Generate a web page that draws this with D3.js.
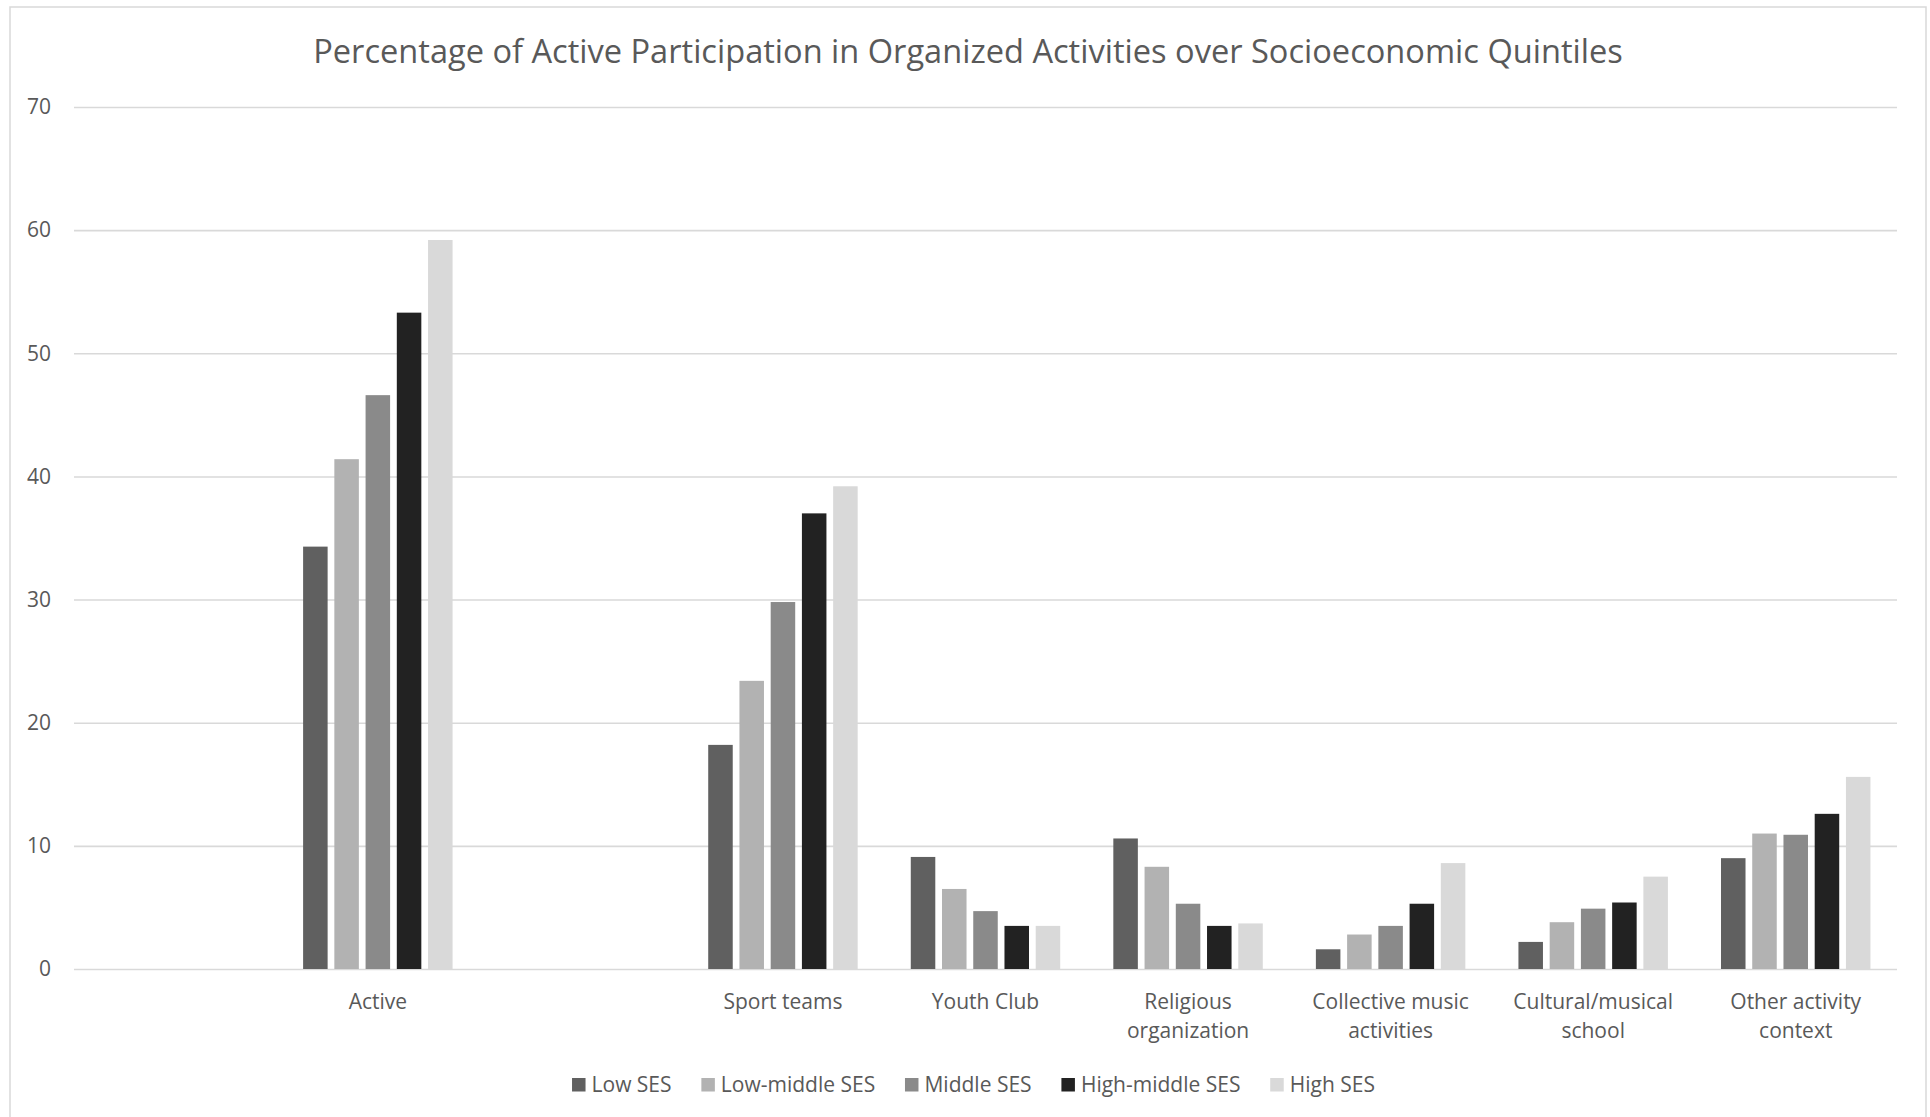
<!DOCTYPE html>
<html>
<head>
<meta charset="utf-8">
<script src="https://cdn.jsdelivr.net/npm/d3@7"></script>
<style>
  html, body { margin: 0; padding: 0; background: #ffffff; }
  svg { display: block; font-family: "Open Sans", "Noto Sans", sans-serif; }
</style>
</head>
<body>
<svg id="chart" width="1930" height="1117"></svg>
<script>
// Categories along the x axis (empty strings are spacer slots)
const categories = [
  "", "Active", "", "Sport teams", "Youth Club", "Religious organization",
  "Collective music activities", "Cultural/musical school", "Other activity context"
];

// Socioeconomic quintile series
const seriesNames = ["Low SES", "Low-middle SES", "Middle SES", "High-middle SES", "High SES"];
const seriesColors = ["#606060", "#b2b2b2", "#8a8a8a", "#222222", "#d9d9d9"];

// Percentages per category, one array per series (null = no bar in spacer slot)
const lowSES        = [null, 34.3, null, 18.2, 9.1, 10.6, 1.6, 2.2, 9.0];
const lowMiddleSES  = [null, 41.4, null, 23.4, 6.5,  8.3, 2.8, 3.8, 11.0];
const middleSES     = [null, 46.6, null, 29.8, 4.7,  5.3, 3.5, 4.9, 10.9];
const highMiddleSES = [null, 53.3, null, 37.0, 3.5,  3.5, 5.3, 5.4, 12.6];
const highSES       = [null, 59.2, null, 39.2, 3.5,  3.7, 8.6, 7.5, 15.6];

const yTicks = [0, 10, 20, 30, 40, 50, 60, 70];

const seriesValues = [lowSES, lowMiddleSES, middleSES, highMiddleSES, highSES];

const svg = d3.select("#chart");
const textColor = "#595959";
const gridColor = "#d9d9d9";
const labelSize = 21;

// Outer chart border (bottom edge runs past the canvas)
svg.append("rect")
  .attr("x", 10).attr("y", 7)
  .attr("width", 1916).attr("height", 1120)
  .attr("fill", "#ffffff")
  .attr("stroke", gridColor).attr("stroke-width", 1.5);

// Title
svg.append("text")
  .attr("x", 968).attr("y", 63)
  .attr("text-anchor", "middle")
  .attr("font-size", 32.6)
  .attr("fill", textColor)
  .text("Percentage of Active Participation in Organized Activities over Socioeconomic Quintiles");

const plot = { left: 74, right: 1897, top: 107, bottom: 969 };

const x0 = d3.scaleBand()
  .domain(d3.range(categories.length))
  .range([plot.left, plot.right])
  .paddingInner(0).paddingOuter(0);

const groupWidth = x0.bandwidth() * 0.771;
const x1 = d3.scaleBand()
  .domain(d3.range(seriesNames.length))
  .range([-groupWidth / 2, groupWidth / 2])
  .paddingInner(0.215)
  .paddingOuter(0.1075);

const y = d3.scaleLinear()
  .domain([0, 70])
  .range([plot.bottom, plot.top]);

// Gridlines and y tick labels
const yAxis = svg.append("g")
  .attr("transform", `translate(${plot.left},0)`)
  .call(d3.axisLeft(y)
    .tickValues(yTicks)
    .tickSize(-(plot.right - plot.left))
    .tickPadding(23)
    .tickFormat(d3.format("d")));
yAxis.select(".domain").remove();
yAxis.selectAll(".tick line").attr("stroke", gridColor).attr("stroke-width", 1.6);
yAxis.selectAll(".tick text")
  .attr("fill", textColor)
  .attr("font-size", labelSize)
  .attr("font-family", "'Open Sans', sans-serif");

// Bars
const rows = [];
categories.forEach((c, ci) => {
  seriesValues.forEach((vals, si) => {
    if (vals[ci] != null) rows.push({ ci, si, v: vals[ci] });
  });
});

svg.append("g").selectAll("rect")
  .data(rows)
  .join("rect")
  .attr("x", d => x0(d.ci) + x0.bandwidth() / 2 + x1(d.si))
  .attr("width", x1.bandwidth())
  .attr("y", d => y(d.v))
  .attr("height", d => y(0) - y(d.v))
  .attr("fill", d => seriesColors[d.si]);

// Category axis
const xAxis = svg.append("g")
  .attr("transform", `translate(0,${plot.bottom})`)
  .call(d3.axisBottom(x0).tickSize(0).tickPadding(0).tickFormat(i => categories[i]));
xAxis.select(".domain").remove();

// Wrap category labels into lines no wider than maxWidth
function wrap(textSel, maxWidth) {
  textSel.each(function () {
    const text = d3.select(this);
    const words = text.text().split(/\s+/).filter(w => w.length);
    text.text(null);
    let line = [];
    let lineNo = 0;
    let tspan = text.append("tspan").attr("x", 0).attr("y", 39.5);
    words.forEach(w => {
      line.push(w);
      tspan.text(line.join(" "));
      if (tspan.node().getComputedTextLength() > maxWidth && line.length > 1) {
        line.pop();
        tspan.text(line.join(" "));
        line = [w];
        lineNo++;
        tspan = text.append("tspan").attr("x", 0).attr("y", 39.5 + lineNo * 29.5).text(w);
      }
    });
  });
}

xAxis.selectAll(".tick text")
  .attr("fill", textColor)
  .attr("font-size", labelSize)
  .attr("font-family", "'Open Sans', sans-serif")
  .attr("dy", null)
  .call(wrap, 190);

// Legend
const legendGap = 29.8;
const legend = svg.append("g");
const items = legend.selectAll("g")
  .data(seriesNames)
  .join("g");
items.append("rect")
  .attr("width", 13.5).attr("height", 13.5)
  .attr("y", 1078)
  .attr("fill", (d, i) => seriesColors[i]);
items.append("text")
  .attr("x", 19.5).attr("y", 1091.5)
  .attr("font-size", labelSize)
  .attr("fill", textColor)
  .text(d => d);

let offset = 0;
const positions = [];
items.each(function () {
  const w = this.querySelector("text").getComputedTextLength() + 19.5;
  positions.push(offset);
  offset += w + legendGap;
});
const legendWidth = offset - legendGap;
const legendStart = 973.5 - legendWidth / 2;
items.attr("transform", (d, i) => `translate(${legendStart + positions[i]},0)`);
</script>
</body>
</html>
